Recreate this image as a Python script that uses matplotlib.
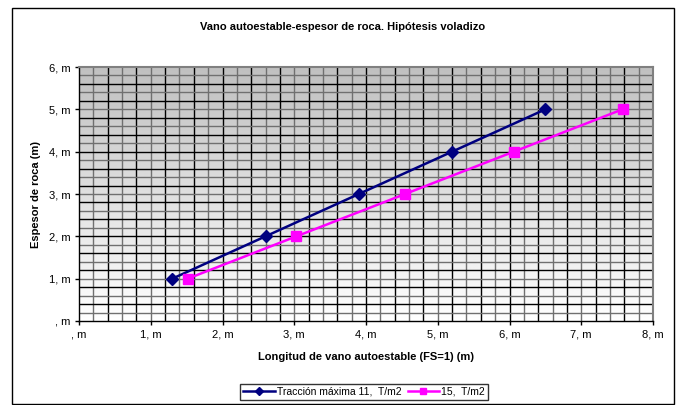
import numpy as np
import matplotlib.pyplot as plt
from matplotlib.patches import Rectangle

plt.rcParams['font.family'] = ['Liberation Sans', 'DejaVu Sans']

# datos
espesor = [1, 2, 3, 4, 5]
vano_11 = [1.3, 2.6, 3.9, 5.2, 6.5]
vano_15 = [1.515, 3.03, 4.545, 6.06, 7.575]
nombre_11 = 'Tracción máxima 11,  T/m2'
nombre_15 = '15,  T/m2'
x_ticks = [0, 1, 2, 3, 4, 5, 6, 7, 8]
y_ticks = [0, 1, 2, 3, 4, 5, 6]

fig = plt.figure(figsize=(6.8, 4.05), dpi=100)
ax = fig.add_axes([79/680, 1 - 321/405, (653 - 79)/680, (321 - 67)/405])

# marco exterior
fig.patches.append(Rectangle((12/680, 1/405), 662/680, 396/405, transform=fig.transFigure,
                             fill=False, edgecolor='black', linewidth=1.0))

# fondo degradado: gris arriba, blanco abajo
grad = np.linspace(1.0, 0.75, 256).reshape(-1, 1)
ax.imshow(grad, cmap='gray', vmin=0, vmax=1, aspect='auto',
          extent=[0, 8, 0, 6], zorder=0, origin='lower')
ax.set_xlim(0, 8)
ax.set_ylim(0, 6)

# rejilla cada 0.2
for i, gx in enumerate(np.arange(0.2, 8, 0.2)):
    ax.axvline(gx, color='black' if i % 2 == 1 else '#707070', linewidth=1.0, zorder=1)
for i, gy in enumerate(np.arange(0.2, 6, 0.2)):
    ax.axhline(gy, color='black' if i % 2 == 1 else '#707070', linewidth=1.0, zorder=1)

ax.plot(vano_11, espesor, color='#000080', marker='D', markersize=6, linewidth=1.8,
        label=nombre_11, zorder=3)
ax.plot(vano_15, espesor, color='#FF00FF', marker='s', markersize=7, linewidth=1.8,
        label=nombre_15, zorder=3)

ax.set_xticks(x_ticks)
ax.set_yticks(y_ticks)
ax.set_xticklabels([(f'{v}, m' if v else ', m') for v in x_ticks])
ax.set_yticklabels([(f'{v}, m' if v else ', m') for v in y_ticks])
ax.tick_params(labelsize=8, length=3, width=1, direction='out', pad=3)

for s in ['left', 'bottom']:
    ax.spines[s].set_color('black')
    ax.spines[s].set_linewidth(1.0)
for s in ['top', 'right']:
    ax.spines[s].set_color('#808080')
    ax.spines[s].set_linewidth(1.5)

ax.set_xlabel('Longitud de vano autoestable (FS=1) (m)', fontsize=8, fontweight='bold', labelpad=9)
ax.set_ylabel('Espesor de roca (m)', fontsize=8, fontweight='bold', labelpad=6)
fig.text(343/680, 1 - 27/405, 'Vano autoestable-espesor de roca. Hipótesis voladizo',
         ha='center', va='center', fontsize=8, fontweight='bold')

leg = fig.legend(loc='center', bbox_to_anchor=(364/680, 1 - 392/405), ncol=2, fontsize=7.5,
                 frameon=True, fancybox=False, edgecolor='black', handlelength=3,
                 columnspacing=0.6, handletextpad=0.2, borderpad=0.3, markerscale=0.7)
leg.get_frame().set_linewidth(1.0)

fig.savefig('out.png', dpi=100)
